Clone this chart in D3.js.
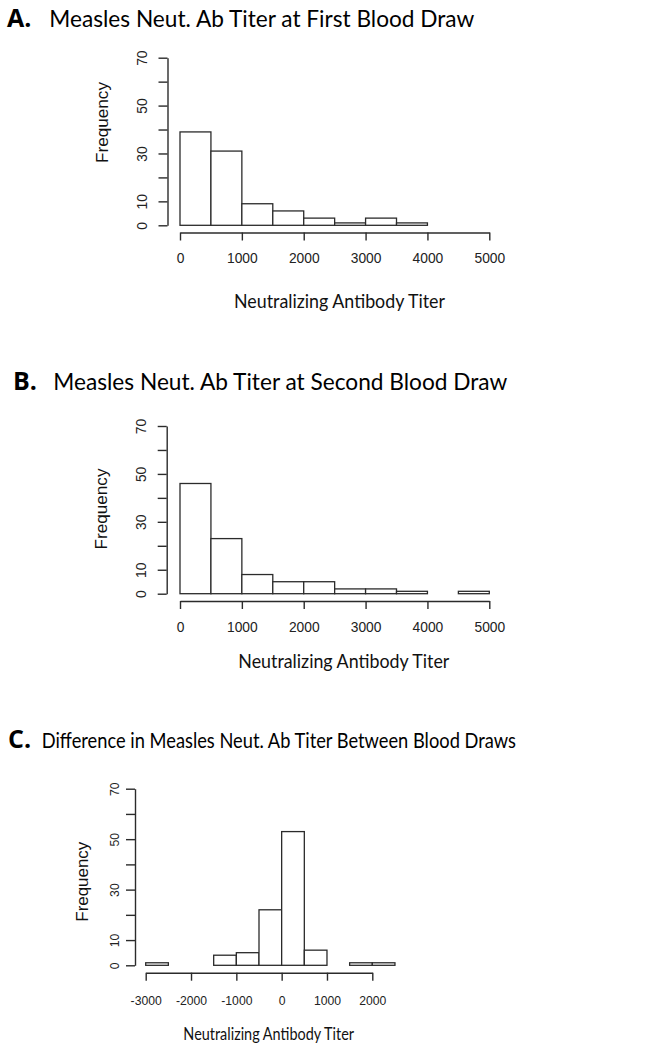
<!DOCTYPE html>
<html>
<head>
<meta charset="utf-8">
<script src="https://cdn.jsdelivr.net/npm/d3@7"></script>
<style>
  body { margin: 0; background: #fff; }
  svg { display: block; }
</style>
</head>
<body>
<svg id="chart" width="648" height="1050"></svg>
<script>
// histogram bins (left edge) and counts
const binWidth = 500;
const binsA = [0, 500, 1000, 1500, 2000, 2500, 3000, 3500];
const countsA = [39, 31, 9, 6, 3, 1, 3, 1];
const binsB = [0, 500, 1000, 1500, 2000, 2500, 3000, 3500, 4000, 4500];
const countsB = [46, 23, 8, 5, 5, 2, 2, 1, 0, 1];
const binsC = [-3000, -2500, -2000, -1500, -1000, -500, 0, 500, 1000, 1500, 2000];
const countsC = [1, 0, 0, 4, 5, 22, 53, 6, 0, 1, 1];

const xTicksAB = [0, 1000, 2000, 3000, 4000, 5000];
const xTicksC = [-3000, -2000, -1000, 0, 1000, 2000];
const yTicks = [0, 10, 20, 30, 40, 50, 60, 70];
const yLabels = [0, 10, 30, 50, 70];

const titles = ["Measles Neut. Ab Titer at First Blood Draw",
                "Measles Neut. Ab Titer at Second Blood Draw",
                "Difference in Measles Neut. Ab Titer Between Blood Draws"];
const letters = ["A.", "B.", "C."];
const xTitle = "Neutralizing Antibody Titer";
const yTitle = "Frequency";

const svg = d3.select("#chart");
const ink = "#2b2b2b";
const tickFont = "'Liberation Sans', Arial, sans-serif";
const titleFont = "Lato, 'Open Sans', sans-serif";

const panels = [
  { bins: binsA, counts: countsA, xTicks: xTicksAB, xDom: [0, 5000], xRange: [180, 489.3], yRange: [225.3, 57.7],
    yAxisX: 167.5, xAxisY: 232.5, tickLabY: 258.3, yLabX: 141.7, tickSize: 13.8, freqX: 102.5, freqY: 122.5, freqW: 81,
    letterX: 7, titleX: 49.3, titleW: 425, titleY: 26.7, titleSize: 23.5,
    xtX: 339.5, xtY: 308, xtW: 211, xtSize: 20 },
  { bins: binsB, counts: countsB, xTicks: xTicksAB, xDom: [0, 5000], xRange: [180, 489.3], yRange: [593.7, 426],
    yAxisX: 166.7, xAxisY: 601, tickLabY: 626.7, yLabX: 140.8, tickSize: 13.8, freqX: 101, freqY: 509, freqW: 81,
    letterX: 13, titleX: 53.3, titleW: 454, titleY: 390, titleSize: 23.5,
    xtX: 343.8, xtY: 668, xtW: 211, xtSize: 20 },
  { bins: binsC, counts: countsC, xTicks: xTicksC, xDom: [-3000, 2000], xRange: [145.7, 372.3], yRange: [965.3, 788.7],
    yAxisX: 135, xAxisY: 972.7, tickLabY: 1000.5, yLabX: 115, tickSize: 12.2, freqX: 82, freqY: 881.7, freqW: 80,
    letterX: 8, titleX: 41.7, titleW: 474.3, titleY: 748.3, titleSize: 21.5,
    xtX: 268.7, xtY: 1040, xtW: 170.7, xtSize: 17 }
];

panels.forEach((p, i) => {
  const x = d3.scaleLinear().domain(p.xDom).range(p.xRange);
  const y = d3.scaleLinear().domain([0, 70]).range(p.yRange);
  const g = svg.append("g");

  // bars
  g.selectAll("rect.bar").data(p.bins.map((b, j) => ({ x0: b, n: p.counts[j] })))
    .join("rect").attr("class", "bar")
    .attr("x", d => x(d.x0))
    .attr("width", d => x(d.x0 + binWidth) - x(d.x0))
    .attr("y", d => y(d.n))
    .attr("height", d => y(0) - y(d.n))
    .attr("fill", "#fff").attr("stroke", ink).attr("stroke-width", 1.3);

  // x axis (R style, detached below the bars)
  const xAxis = d3.axisBottom(x).tickValues(p.xTicks).tickSize(8).tickSizeOuter(0).tickFormat(d3.format("d"));
  const gx = g.append("g").attr("transform", `translate(0,${p.xAxisY})`).call(xAxis);
  gx.select(".domain").attr("stroke", ink).attr("stroke-width", 1.4);
  gx.selectAll(".tick line").attr("stroke", ink).attr("stroke-width", 1.4);
  gx.selectAll(".tick text").attr("y", p.tickLabY - p.xAxisY).attr("dy", "0.35em")
    .attr("font-family", tickFont).attr("font-size", p.tickSize).attr("fill", "#222")
    .text(d => d < 0 ? "-" + Math.abs(d) : d);

  // y axis
  const yAxis = d3.axisLeft(y).tickValues(yTicks).tickSize(9).tickSizeOuter(0).tickFormat(d => yLabels.includes(d) ? d : "");
  const gy = g.append("g").attr("transform", `translate(${p.yAxisX},0)`).call(yAxis);
  gy.select(".domain").attr("stroke", ink).attr("stroke-width", 1.4);
  gy.selectAll(".tick line").attr("stroke", ink).attr("stroke-width", 1.4);
  gy.selectAll(".tick text")
    .attr("x", null).attr("dy", null)
    .attr("text-anchor", "middle")
    .attr("transform", `translate(${p.yLabX - p.yAxisX},0) rotate(-90)`)
    .attr("y", 0).attr("dy", "0.35em")
    .attr("font-family", tickFont).attr("font-size", p.tickSize).attr("fill", "#222");

  // y title
  g.append("text")
    .attr("transform", `translate(${p.freqX},${p.freqY}) rotate(-90)`)
    .attr("x", -p.freqW / 2).attr("dy", "0.35em")
    .attr("textLength", p.freqW).attr("lengthAdjust", "spacingAndGlyphs")
    .attr("font-family", tickFont).attr("font-size", 17).attr("fill", "#111")
    .text(yTitle);

  // x title
  g.append("text")
    .attr("x", p.xtX - p.xtW / 2).attr("y", p.xtY)
    .attr("textLength", p.xtW).attr("lengthAdjust", "spacingAndGlyphs")
    .attr("font-family", titleFont).attr("font-size", p.xtSize).attr("fill", "#111")
    .text(xTitle);

  // panel heading
  g.append("text")
    .attr("x", p.letterX).attr("y", p.titleY)
    .attr("font-family", "'Open Sans', Lato, sans-serif").attr("font-weight", 700).attr("font-size", 25)
    .attr("fill", "#000")
    .text(letters[i]);
  g.append("text")
    .attr("x", p.titleX).attr("y", p.titleY)
    .attr("textLength", p.titleW).attr("lengthAdjust", "spacingAndGlyphs")
    .attr("font-family", titleFont).attr("font-size", p.titleSize).attr("fill", "#000")
    .text(titles[i]);
});
</script>
</body>
</html>
